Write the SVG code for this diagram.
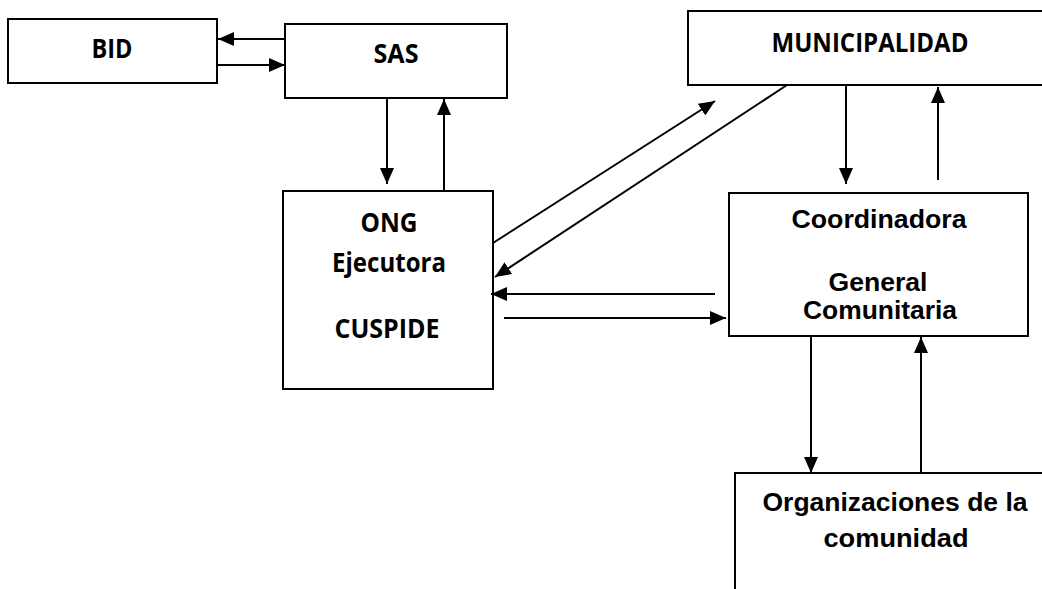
<svg xmlns="http://www.w3.org/2000/svg" width="1042" height="589" viewBox="0 0 1042 589">
<style>
.box{fill:#fff;stroke:#000;stroke-width:2}
.c{font-family:"Open Sans","Liberation Sans",sans-serif;font-weight:bold;font-size:26px;fill:#000;text-anchor:middle}
.a{font-family:"Liberation Sans",Arial,sans-serif;font-weight:bold;font-size:26.5px;fill:#000;text-anchor:middle}
.ln{stroke:#000;stroke-width:2;fill:none;marker-end:url(#ah)}
</style>
<defs>
<marker id="ah" viewBox="0 0 16 14" refX="16" refY="7" markerWidth="16" markerHeight="14" markerUnits="userSpaceOnUse" orient="auto">
<path d="M0,0 L16,7 L0,14 Z" fill="#000"/>
</marker>
</defs>
<rect width="1042" height="589" fill="#fff"/>
<g id="bid"><rect class="box" x="8" y="19" width="209" height="64"/><text class="c" x="112" y="58" textLength="41" lengthAdjust="spacingAndGlyphs">BID</text></g>
<g id="sas"><rect class="box" x="285" y="24" width="222" height="74"/><text class="c" x="396" y="63" textLength="45" lengthAdjust="spacingAndGlyphs">SAS</text></g>
<g id="municipalidad"><rect class="box" x="688" y="11" width="360" height="74"/><text class="c" x="870" y="52" textLength="197" lengthAdjust="spacingAndGlyphs">MUNICIPALIDAD</text></g>
<g id="ong"><rect class="box" x="283" y="191" width="210" height="198"/>
<text class="c" x="389" y="232" textLength="57" lengthAdjust="spacingAndGlyphs">ONG</text>
<text class="c" x="389" y="272" textLength="114" lengthAdjust="spacingAndGlyphs">Ejecutora</text>
<text class="c" x="387" y="338" textLength="105" lengthAdjust="spacingAndGlyphs">CUSPIDE</text></g>
<g id="coordinadora"><rect class="box" x="729" y="193" width="299" height="143"/>
<text class="a" x="879" y="228" textLength="175" lengthAdjust="spacingAndGlyphs">Coordinadora</text>
<text class="a" x="878" y="291" textLength="99" lengthAdjust="spacingAndGlyphs">General</text>
<text class="a" x="880" y="319" textLength="154" lengthAdjust="spacingAndGlyphs">Comunitaria</text></g>
<g id="organizaciones"><path class="box" d="M735,589 V473 H1042" fill="none"/>
<text class="a" x="895" y="511" textLength="265" lengthAdjust="spacingAndGlyphs">Organizaciones de la</text>
<text class="a" x="896" y="547" textLength="145" lengthAdjust="spacingAndGlyphs">comunidad</text></g>
<g id="connectors">
<line class="ln" x1="285" y1="39" x2="218" y2="39"/>
<line class="ln" x1="217" y1="65" x2="285" y2="65"/>
<line class="ln" x1="387" y1="98" x2="387" y2="184"/>
<line class="ln" x1="444" y1="191" x2="444" y2="99"/>
<line class="ln" x1="493" y1="243" x2="715" y2="101"/>
<line class="ln" x1="787" y1="85" x2="495" y2="277"/>
<line class="ln" x1="715" y1="294" x2="491" y2="294"/>
<line class="ln" x1="504" y1="318" x2="726" y2="318"/>
<line class="ln" x1="846" y1="85" x2="846" y2="184"/>
<line class="ln" x1="938" y1="180" x2="938" y2="87"/>
<line class="ln" x1="811" y1="336" x2="811" y2="473"/>
<line class="ln" x1="921" y1="473" x2="921" y2="337"/>
</g>
</svg>
